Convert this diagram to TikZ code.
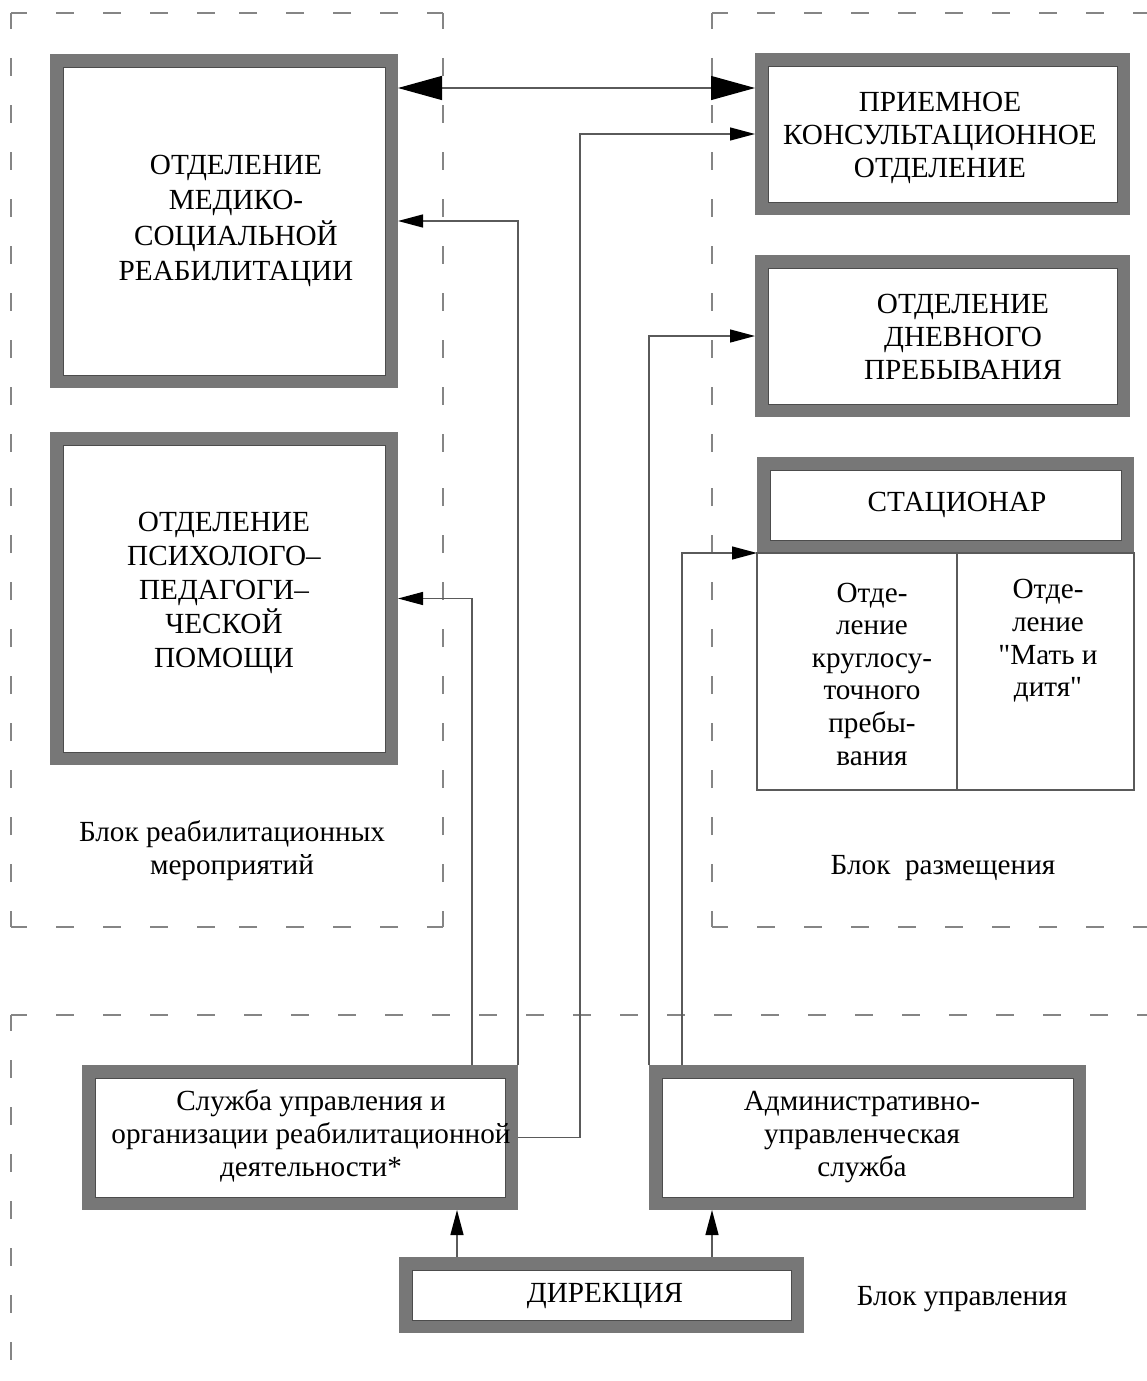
\documentclass[tikz,border=0pt]{standalone}
\usepackage{fontspec}
\setmainfont{Liberation Serif}[Ligatures=TeXOff]
\usetikzlibrary{arrows.meta,calc}
\definecolor{framec}{HTML}{777777}
\definecolor{dashc}{HTML}{858585}
\definecolor{connc}{HTML}{5A5A5A}
\tikzset{
  box/.style={rectangle, draw=framec, line width=13pt, outer sep=6.5pt, inner sep=0pt, fill=white},
  innerline/.style={draw=black!70, line width=0.7pt},
  cell/.style={rectangle, draw=connc, line width=1.3pt, inner sep=0pt, outer sep=0pt},
  txt/.style={font=\fontsize{29.2pt}{33pt}\selectfont, align=center, inner sep=0pt},
  conn/.style={draw=connc, line width=1.3pt},
  sarr/.style={conn, -{Triangle[length=25pt,width=13pt,color=black]}},
  barr/.style={conn, {Triangle[length=44pt,width=24pt,color=black]}-{Triangle[length=44pt,width=24pt,color=black]}},
  dbox/.style={draw=dashc, line width=2pt, dash pattern=on 18pt off 29pt, dash phase=2pt},
}
\newcommand\dside[2]{\draw[dbox] #1 -- ($#1!0.5!#2$); \draw[dbox] #2 -- ($#1!0.5!#2$);}
\begin{document}
\begin{tikzpicture}[x=1pt,y=-1pt]
\useasboundingbox (0,0) rectangle (1147,1381);
% dashed blocks
\dside{(11,13)}{(443,13)}
\dside{(443,13)}{(443,927)}
\dside{(443,927)}{(11,927)}
\dside{(11,927)}{(11,13)}
\draw[dbox] (712,13) -- (1147,13);
\dside{(712,13)}{(712,927)}
\draw[dbox] (712,927) -- (1147,927);
\draw[dbox] (11,1015) -- (1147,1015);
\draw[dbox] (11,1015) -- (11,1381);
% boxes
\node[box, minimum width=335pt, minimum height=321pt] (MS) at (224,221) {};
\node[box, minimum width=335pt, minimum height=320pt] (PP) at (224,598.5) {};
\node[box, minimum width=362pt, minimum height=149pt] (RC) at (942.5,134) {};
\node[box, minimum width=362pt, minimum height=149pt] (DP) at (942.5,336) {};
\node[box, minimum width=364pt, minimum height=83pt] (ST) at (945.5,505) {};
\node[box, minimum width=423pt, minimum height=132pt] (SU) at (300,1137.5) {};
\node[box, minimum width=424pt, minimum height=132pt] (AU) at (867.5,1137.5) {};
\node[box, minimum width=392pt, minimum height=63pt] (DIR) at (601.5,1295) {};
\foreach \n in {MS,PP,RC,DP,ST,SU,AU,DIR}
  \draw[innerline] ($(\n.north west)+(13,13)$) rectangle ($(\n.south east)+(-13,-13)$);
% stationar cells
\node[cell, minimum width=200pt, minimum height=237pt] (C1) at (857,671.5) {};
\node[cell, minimum width=177pt, minimum height=237pt] (C2) at (1045.5,671.5) {};
% texts
\node[txt, font=\fontsize{29.2pt}{35.5pt}\selectfont] (MSt) at (236,221) {ОТДЕЛЕНИЕ\\МЕДИКО-\\СОЦИАЛЬНОЙ\\РЕАБИЛИТАЦИИ};
\node[txt, font=\fontsize{29.2pt}{33.8pt}\selectfont] (PPt) at (224,593) {ОТДЕЛЕНИЕ\\ПСИХОЛОГО–\\ПЕДАГОГИ–\\ЧЕСКОЙ\\ПОМОЩИ};
\node[txt] (RCt) at (940,138) {ПРИЕМНОЕ\\КОНСУЛЬТАЦИОННОЕ\\ОТДЕЛЕНИЕ};
\node[txt] (DPt) at (963,337) {ОТДЕЛЕНИЕ\\ДНЕВНОГО\\ПРЕБЫВАНИЯ};
\node[txt] (STt) at (957,505) {СТАЦИОНАР};
\node[txt, font=\fontsize{29.2pt}{32.6pt}\selectfont] (C1t) at (872,674) {Отде-\\ление\\круглосу-\\точного\\пребы-\\вания};
\node[txt, font=\fontsize{29.2pt}{32.6pt}\selectfont] (C2t) at (1048,641) {Отде-\\ление\\"Мать и\\дитя"};
\node[txt] (SUt) at (311,1136) {Служба управления и\\организации реабилитационной\\деятельности*};
\node[txt] (AUt) at (862,1137) {Административно-\\управленческая\\служба};
\node[txt] (DIRt) at (605,1296) {ДИРЕКЦИЯ};
\node[txt] (L1) at (232,851) {Блок реабилитационных\\мероприятий};
\node[txt] (L2) at (943,868) {Блок\ \ размещения};
\node[txt] (L3) at (962,1299) {Блок управления};
% connectors
\coordinate (ytop) at (0,88);
\draw[barr] (MS.east |- ytop) -- (RC.west |- ytop);
\draw[sarr] (SU.east) -- ++(62,0) |- (RC.west);
\draw[sarr] (SU.north east) |- (MS.east);
\draw[sarr] ($(SU.north west)+(390,0)$) |- (PP.east);
\draw[sarr] (AU.north west) |- (DP.west);
\draw[sarr] ($(AU.north west)+(33,0)$) |- (ST.south west);
\draw[sarr] ($(DIR.north west)+(58,0)$) coordinate (d1) -- (d1 |- SU.south);
\draw[sarr] ($(DIR.north west)+(313,0)$) coordinate (d2) -- (d2 |- AU.south);
\end{tikzpicture}
\end{document}
